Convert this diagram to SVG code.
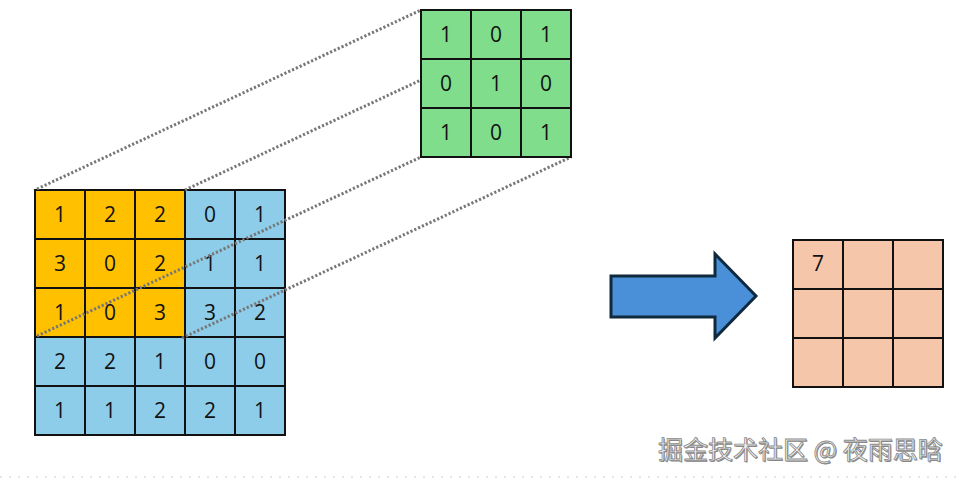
<svg xmlns="http://www.w3.org/2000/svg" width="960" height="480" viewBox="0 0 960 480">
<style>
.g{stroke:#111;stroke-width:2;fill:none}
.t{font-family:"Open Sans","DejaVu Sans",sans-serif;font-size:21px;fill:#111;text-anchor:middle}
.y{fill:#FFC000}
.b{fill:#8DCDEA}
.gr{fill:#7FDD8C}
.o{fill:#F5C6AA}
.dot{stroke:#777;stroke-width:3;stroke-dasharray:2.2 2;fill:none}
</style>
<rect width="960" height="480" fill="#fff"/>
<g id="input">
<rect class="b" x="35" y="190" width="250" height="245"/>
<rect class="y" x="35" y="190" width="150" height="147"/>
<path class="g" d="M35 190H285V435H35Z M85 190V435 M135 190V435 M185 190V435 M235 190V435 M35 239H285 M35 288H285 M35 337H285 M35 386H285"/>
<g class="t">
<text x="60" y="222">1</text><text x="110" y="222">2</text><text x="160" y="222">2</text><text x="210" y="222">0</text><text x="260" y="222">1</text>
<text x="60" y="271">3</text><text x="110" y="271">0</text><text x="160" y="271">2</text><text x="210" y="271">1</text><text x="260" y="271">1</text>
<text x="60" y="320">1</text><text x="110" y="320">0</text><text x="160" y="320">3</text><text x="210" y="320">3</text><text x="260" y="320">2</text>
<text x="60" y="369">2</text><text x="110" y="369">2</text><text x="160" y="369">1</text><text x="210" y="369">0</text><text x="260" y="369">0</text>
<text x="60" y="418">1</text><text x="110" y="418">1</text><text x="160" y="418">2</text><text x="210" y="418">2</text><text x="260" y="418">1</text>
</g>
</g>
<g id="connectors">
<line class="dot" x1="37" y1="189" x2="421" y2="10"/>
<line class="dot" x1="185" y1="190" x2="571" y2="10"/>
<line class="dot" x1="37" y1="336" x2="421" y2="157"/>
<line class="dot" x1="182" y1="338" x2="571" y2="157"/>
</g>
<g id="kernel">
<rect class="gr" x="421" y="10" width="150" height="147"/>
<path class="g" d="M421 10H571V157H421Z M471 10V157 M521 10V157 M421 59H571 M421 108H571"/>
<g class="t">
<text x="446" y="42">1</text><text x="496" y="42">0</text><text x="546" y="42">1</text>
<text x="446" y="91">0</text><text x="496" y="91">1</text><text x="546" y="91">0</text>
<text x="446" y="140">1</text><text x="496" y="140">0</text><text x="546" y="140">1</text>
</g>
</g>
<g id="arrow">
<path d="M611 276H715V254L756 296L715 338V317H611Z" fill="#4A90D9" stroke="#0F2A3F" stroke-width="3" stroke-linejoin="miter"/>
</g>
<g id="output">
<rect class="o" x="793" y="240" width="150" height="147"/>
<path class="g" d="M793 240H943V387H793Z M843 240V387 M893 240V387 M793 289H943 M793 338H943"/>
<text class="t" x="818" y="271">7</text>
</g>
<g id="watermark">
<text x="658" y="459" font-family="'Noto Sans CJK SC',sans-serif" font-size="25" fill="#555" opacity="0.7" transform="translate(1,1)">掘金技术社区 @ 夜雨思晗</text>
<text x="658" y="459" font-family="'Noto Sans CJK SC',sans-serif" font-size="25" fill="#f4f4f4" stroke="#8a8a8a" stroke-width="0.8">掘金技术社区 @ 夜雨思晗</text>
<line x1="0" y1="477" x2="960" y2="477" stroke="#ddd" stroke-width="1.5" stroke-dasharray="2 7"/>
</g>
</svg>
